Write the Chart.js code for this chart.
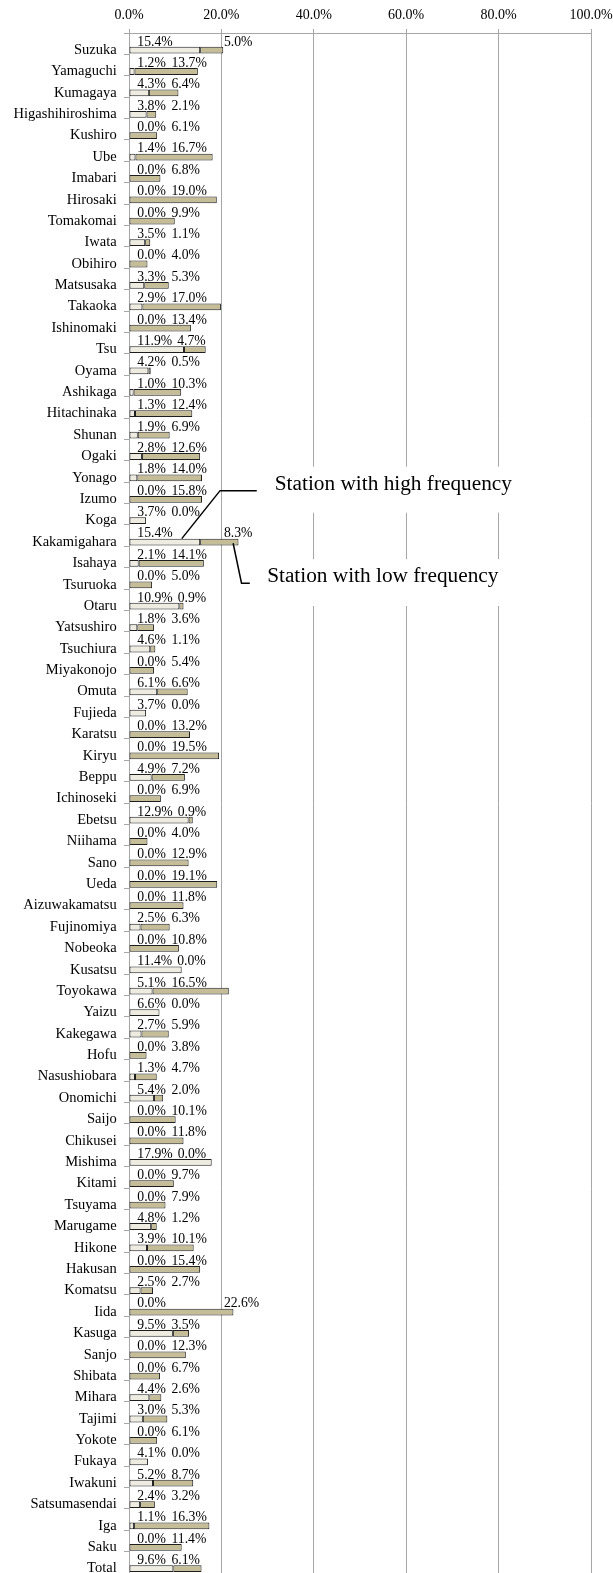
<!DOCTYPE html>
<html><head><meta charset="utf-8">
<script src="https://cdn.jsdelivr.net/npm/chart.js@4.4.1/dist/chart.umd.min.js"></script>
<style>html,body{margin:0;padding:0;background:#fff;overflow:hidden}canvas{display:block}</style>
</head><body>
<canvas id="c" width="613" height="1573" style="width:613px;height:1573px"></canvas>
<script>
const stations = ['Suzuka','Yamaguchi','Kumagaya','Higashihiroshima','Kushiro','Ube','Imabari','Hirosaki','Tomakomai','Iwata','Obihiro','Matsusaka','Takaoka','Ishinomaki','Tsu','Oyama','Ashikaga','Hitachinaka','Shunan','Ogaki','Yonago','Izumo','Koga','Kakamigahara','Isahaya','Tsuruoka','Otaru','Yatsushiro','Tsuchiura','Miyakonojo','Omuta','Fujieda','Karatsu','Kiryu','Beppu','Ichinoseki','Ebetsu','Niihama','Sano','Ueda','Aizuwakamatsu','Fujinomiya','Nobeoka','Kusatsu','Toyokawa','Yaizu','Kakegawa','Hofu','Nasushiobara','Onomichi','Saijo','Chikusei','Mishima','Kitami','Tsuyama','Marugame','Hikone','Hakusan','Komatsu','Iida','Kasuga','Sanjo','Shibata','Mihara','Tajimi','Yokote','Fukaya','Iwakuni','Satsumasendai','Iga','Saku','Total'];
const highFreq = [15.4,1.2,4.3,3.8,0.0,1.4,0.0,0.0,0.0,3.5,0.0,3.3,2.9,0.0,11.9,4.2,1.0,1.3,1.9,2.8,1.8,0.0,3.7,15.4,2.1,0.0,10.9,1.8,4.6,0.0,6.1,3.7,0.0,0.0,4.9,0.0,12.9,0.0,0.0,0.0,0.0,2.5,0.0,11.4,5.1,6.6,2.7,0.0,1.3,5.4,0.0,0.0,17.9,0.0,0.0,4.8,3.9,0.0,2.5,0.0,9.5,0.0,0.0,4.4,3.0,0.0,4.1,5.2,2.4,1.1,0.0,9.6];
const lowFreq = [5.0,13.7,6.4,2.1,6.1,16.7,6.8,19.0,9.9,1.1,4.0,5.3,17.0,13.4,4.7,0.5,10.3,12.4,6.9,12.6,14.0,15.8,0.0,8.3,14.1,5.0,0.9,3.6,1.1,5.4,6.6,0.0,13.2,19.5,7.2,6.9,0.9,4.0,12.9,19.1,11.8,6.3,10.8,0.0,16.5,0.0,5.9,3.8,4.7,2.0,10.1,11.8,0.0,9.7,7.9,1.2,10.1,15.4,2.7,22.6,3.5,12.3,6.7,2.6,5.3,6.1,0.0,8.7,3.2,16.3,11.4,6.1];
const xMin = 0, xMax = 100, xStep = 20;
const seriesNames = ['Station with high frequency', 'Station with low frequency'];
const calloutStation = 'Kakamigahara';

const SERIF = '"Liberation Serif", "Times New Roman", serif';
const fmt = v => v.toFixed(1) + '%';

const segLabels = {
  id: 'segLabels',
  afterDatasetsDraw(chart) {
    const ctx = chart.ctx, xs = chart.scales.x;
    const hiMeta = chart.getDatasetMeta(1);
    ctx.save();
    ctx.font = '13.7px ' + SERIF;
    ctx.textBaseline = 'alphabetic';
    ctx.textAlign = 'left';
    stations.forEach((s, i) => {
      const hi = highFreq[i], lo = lowFreq[i], total = hi + lo;
      const el = hiMeta.data[i];
      const top = el.y - el.height / 2;
      const base = top - 1.2;
      const t1 = fmt(hi), t2 = fmt(lo);
      const w1 = ctx.measureText(t1).width, w2 = ctx.measureText(t2).width;
      const x1 = xs.getPixelForValue(1.8);
      let x2 = Math.max(xs.getPixelForValue(9.2), x1 + w1 + 5);
      if (total > 20 && (hi >= 15 || total >= 22)) x2 = xs.getPixelForValue(20) + 2.5;
      ctx.fillStyle = '#fff';
      ctx.fillRect(x1 - 1, base - 10, w1 + 2, 10.5);
      ctx.fillRect(x2 - 1, base - 10, w2 + 2, 10.5);
      ctx.fillStyle = '#000';
      ctx.fillText(t1, x1, base);
      ctx.fillText(t2, x2, base);
    });
    ctx.restore();
  }
};

const callouts = {
  id: 'callouts',
  afterDraw(chart) {
    const ctx = chart.ctx;
    const idx = stations.indexOf(calloutStation);
    const hiEl = chart.getDatasetMeta(1).data[idx];
    const loEl = chart.getDatasetMeta(2).data[idx];
    const a1 = {x: hiEl.base + 0.74 * (hiEl.x - hiEl.base), y: hiEl.y - hiEl.height / 2};
    const e1 = {x: a1.x + 38.3, y: a1.y - 48};
    const f1 = {x: e1.x + 36.7, y: e1.y};
    const a2 = {x: loEl.base + 0.86 * (loEl.x - loEl.base), y: loEl.y + 1.2};
    const e2 = {x: a2.x + 8.4, y: a2.y + 40};
    const f2 = {x: e2.x + 8.3, y: e2.y};
    ctx.save();
    ctx.fillStyle = '#fff';
    ctx.fillRect(f1.x + 6, e1.y - 24, 262, 46);
    ctx.fillRect(f2.x + 8, e2.y - 24, 250, 46.7);
    ctx.strokeStyle = '#000';
    ctx.lineWidth = 1.5;
    ctx.beginPath(); ctx.moveTo(a1.x, a1.y); ctx.lineTo(e1.x, e1.y); ctx.lineTo(f1.x, f1.y); ctx.stroke();
    ctx.beginPath(); ctx.moveTo(a2.x, a2.y); ctx.lineTo(e2.x, e2.y); ctx.lineTo(f2.x, f2.y); ctx.stroke();
    ctx.fillStyle = '#000';
    ctx.font = '21.3px ' + SERIF;
    ctx.textBaseline = 'alphabetic';
    ctx.textAlign = 'left';
    ctx.fillText(seriesNames[0], f1.x + 18, e1.y - 0.7);
    ctx.fillText(seriesNames[1], f2.x + 17.3, e2.y - 1.6);
    ctx.restore();
  }
};

const GRID = '#a6a6a6';
new Chart(document.getElementById('c'), {
  type: 'bar',
  data: {
    labels: stations,
    datasets: [
      { label: 'spacer', data: stations.map(() => null), stack: 'spacer', backgroundColor: 'rgba(0,0,0,0)', borderWidth: 0 },
      { label: seriesNames[0], data: highFreq, stack: 'main', backgroundColor: '#EEECE1', borderColor: '#1e1e1e', borderWidth: 1, borderSkipped: false },
      { label: seriesNames[1], data: lowFreq, stack: 'main', backgroundColor: '#C4BD97', borderColor: '#1e1e1e', borderWidth: 1, borderSkipped: false }
    ]
  },
  options: {
    indexAxis: 'y',
    responsive: false,
    animation: false,
    devicePixelRatio: 1,
    categoryPercentage: 1.2,
    barPercentage: 0.53,
    layout: { padding: 0 },
    plugins: { legend: { display: false }, tooltip: { enabled: false }, title: { display: false } },
    scales: {
      x: {
        type: 'linear', position: 'top', stacked: true, min: xMin, max: xMax,
        ticks: { stepSize: xStep, callback: v => fmt(v), color: '#000', font: { family: SERIF, size: 14 }, padding: 5, maxRotation: 0 },
        grid: { color: GRID, lineWidth: 1, tickLength: 4, drawTicks: true },
        border: { display: true, color: GRID, width: 1 },
        afterFit(s) { s.height = 33; s.paddingRight = 22; s.paddingLeft = 0; }
      },
      y: {
        type: 'category', stacked: true, offset: true,
        ticks: { autoSkip: false, color: '#000', font: { family: SERIF, size: 14.5 }, padding: 7.3, labelOffset: 6.3 },
        grid: { offset: true, drawOnChartArea: false, drawTicks: true, tickLength: 5, color: GRID },
        border: { display: true, color: GRID, width: 1 },
        afterFit(s) { s.width = 129; s.paddingTop = 0; s.paddingBottom = 0; }
      }
    }
  },
  plugins: [segLabels, callouts]
});
</script>
</body></html>
